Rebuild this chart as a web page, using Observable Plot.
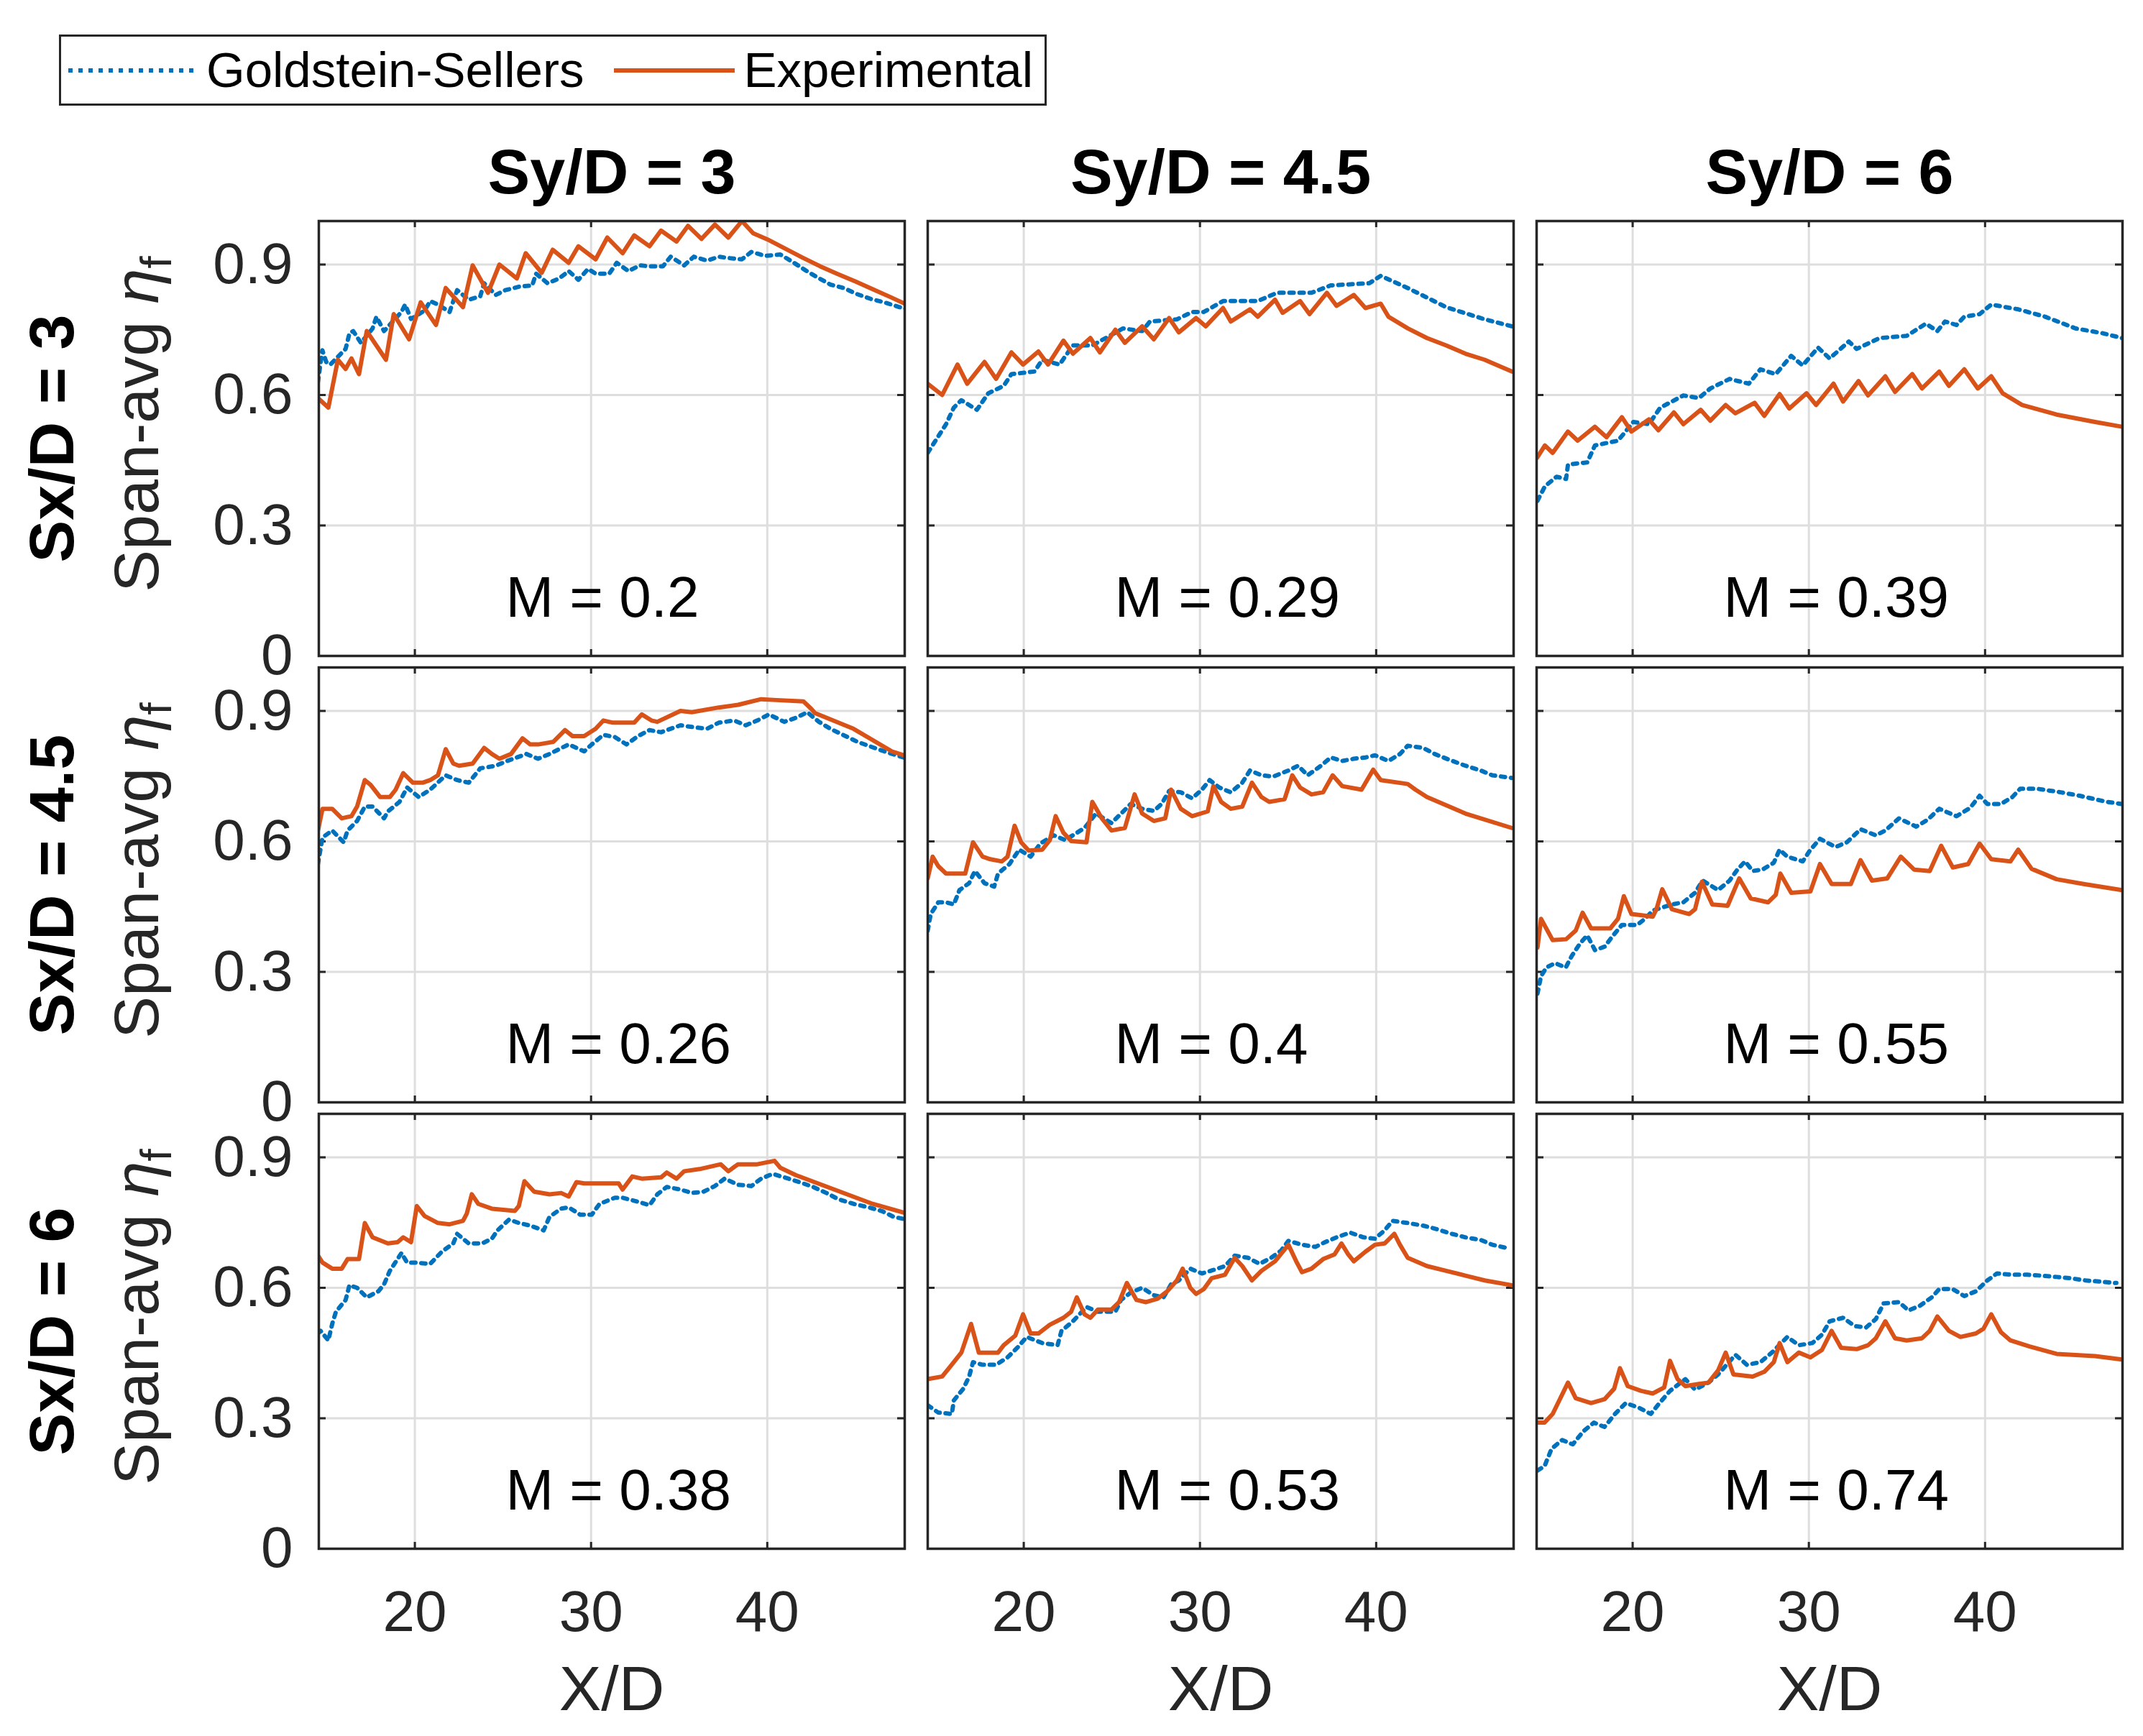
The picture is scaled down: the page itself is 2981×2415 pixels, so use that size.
<!DOCTYPE html>
<html>
<head>
<meta charset="utf-8">
<script src="https://cdn.jsdelivr.net/npm/d3@7"></script>
<script src="https://cdn.jsdelivr.net/npm/@observablehq/plot@0.6"></script>
<style>
  body { margin: 0; background: #fff; font-family: "Liberation Sans", Arial, sans-serif; }
  #legend { position: relative; width: 2981px; height: 160px; }
  #legend .box {
    position: absolute; left: 82px; top: 48px; width: 1374px; height: 99px;
    box-sizing: border-box; border: 3px solid #262626; background: #fff;
    display: flex; align-items: center; padding-left: 10px;
    font-size: 69px; color: #000; white-space: nowrap;
  }
  #legend svg { display: block; }
</style>
</head>
<body>
<div id="legend">
  <div class="box">
    <svg width="182" height="20" style="margin-right:10px"><line x1="0" y1="10" x2="182" y2="10" stroke="#0072BD" stroke-width="6" stroke-dasharray="6 8"/></svg>
    <span>Goldstein-Sellers</span>
    <svg width="168" height="20" style="margin-left:42px;margin-right:12px"><line x1="0" y1="10" x2="168" y2="10" stroke="#D95319" stroke-width="6"/></svg>
    <span>Experimental</span>
  </div>
</div>
<div id="chart"></div>
<script>
// Sx/D (rangées) et Sy/D (colonnes)
const spacings = [3, 4.5, 6];
// rapport de soufflage M, lignes = Sx/D, colonnes = Sy/D
const blowing = [[0.2, 0.29, 0.39], [0.26, 0.4, 0.55], [0.38, 0.53, 0.74]];
const xTicks = [20, 30, 40];
const yTicks = [0, 0.3, 0.6, 0.9];

const gs_3_3 = [[14.5,0.63],[14.75,0.703],[14.97,0.676],[15.2,0.67],[16.07,0.706],[16.29,0.742],[16.5,0.747],[16.94,0.72],[17.6,0.753],[17.82,0.78],[18.25,0.747],[19.24,0.791],[19.45,0.808],[19.78,0.775],[20.55,0.794],[20.87,0.816],[21.31,0.808],[21.97,0.791],[22.4,0.841],[23.06,0.819],[23.71,0.827],[23.93,0.857],[24.59,0.83],[25.13,0.841],[25.9,0.849],[26.66,0.852],[26.88,0.879],[27.53,0.857],[28.19,0.868],[28.73,0.885],[29.28,0.865],[29.83,0.89],[30.26,0.879],[31.03,0.879],[31.46,0.904],[32.12,0.885],[32.77,0.898],[33.32,0.896],[34.08,0.896],[34.52,0.918],[35.28,0.898],[35.83,0.918],[36.59,0.909],[37.25,0.918],[37.79,0.915],[38.56,0.912],[39.1,0.929],[39.87,0.92],[40.74,0.923],[41.4,0.907],[42.16,0.887],[42.82,0.871],[43.58,0.854],[44.34,0.846],[45.1,0.832],[45.87,0.821],[46.64,0.813],[47.51,0.802],[47.9,0.798]];
const exp_3_3 = [[14.5,0.593],[15.09,0.571],[15.63,0.681],[16.07,0.66],[16.4,0.684],[16.83,0.648],[17.27,0.747],[18.36,0.681],[18.8,0.786],[19.67,0.728],[20.33,0.813],[21.2,0.761],[21.75,0.846],[22.73,0.802],[23.28,0.898],[24.15,0.835],[24.8,0.9],[25.79,0.868],[26.29,0.926],[27.2,0.881],[27.82,0.934],[28.73,0.904],[29.28,0.942],[30.26,0.912],[30.92,0.962],[31.79,0.926],[32.45,0.967],[33.32,0.942],[33.97,0.978],[34.85,0.953],[35.5,0.989],[36.27,0.959],[37.03,0.992],[37.79,0.962],[38.56,1.0],[39.2,0.972],[40.0,0.958],[41.0,0.937],[42.0,0.916],[43.0,0.896],[44.0,0.878],[45.0,0.861],[46.0,0.843],[47.0,0.825],[47.9,0.808]];

const gs_3_45 = [[14.55,0.467],[15.59,0.533],[16.03,0.571],[16.46,0.588],[17.34,0.566],[17.99,0.604],[18.86,0.621],[19.3,0.648],[20.61,0.654],[21.05,0.681],[22.03,0.67],[22.79,0.714],[23.89,0.714],[25.63,0.753],[26.72,0.747],[27.16,0.769],[28.69,0.774],[29.56,0.791],[30.22,0.791],[31.31,0.816],[33.28,0.816],[34.37,0.835],[36.33,0.835],[37.42,0.852],[39.61,0.857],[40.26,0.874],[41.79,0.846],[43.97,0.802],[46.16,0.774],[47.7,0.758]];
const exp_3_45 = [[14.55,0.626],[15.37,0.6],[16.24,0.67],[16.79,0.626],[17.77,0.676],[18.43,0.637],[19.3,0.698],[19.96,0.67],[20.83,0.7],[21.38,0.67],[22.25,0.725],[22.79,0.695],[23.78,0.731],[24.32,0.698],[25.2,0.75],[25.74,0.72],[26.72,0.758],[27.38,0.728],[28.25,0.777],[28.8,0.744],[29.78,0.777],[30.33,0.758],[31.31,0.8],[31.75,0.769],[32.84,0.797],[33.28,0.78],[34.26,0.819],[34.69,0.789],[35.68,0.816],[36.22,0.786],[37.2,0.835],[37.75,0.805],[38.73,0.83],[39.39,0.8],[40.26,0.81],[40.7,0.78],[41.8,0.753],[42.88,0.731],[43.97,0.714],[45.07,0.695],[46.16,0.681],[47.7,0.654]];

const gs_3_6 = [[14.6,0.357],[15.02,0.39],[15.68,0.412],[16.22,0.407],[16.33,0.44],[17.42,0.445],[17.86,0.484],[19.17,0.495],[20.04,0.538],[20.92,0.533],[21.57,0.571],[22.88,0.599],[23.76,0.593],[24.41,0.615],[25.5,0.637],[26.59,0.626],[27.25,0.659],[28.12,0.648],[29.0,0.69],[29.65,0.668],[30.52,0.709],[31.18,0.684],[32.27,0.723],[32.71,0.706],[34.02,0.731],[35.55,0.736],[36.64,0.764],[37.29,0.747],[37.73,0.769],[38.38,0.761],[38.82,0.78],[39.69,0.786],[40.35,0.808],[41.88,0.797],[43.41,0.78],[45.15,0.753],[46.68,0.742],[47.77,0.731]];
const exp_3_6 = [[14.58,0.456],[15.02,0.484],[15.46,0.467],[16.33,0.516],[16.88,0.495],[17.86,0.527],[18.52,0.503],[19.39,0.549],[19.93,0.516],[20.92,0.544],[21.46,0.519],[22.34,0.56],[22.88,0.533],[23.86,0.566],[24.41,0.541],[25.28,0.577],[25.83,0.558],[26.92,0.582],[27.47,0.552],[28.34,0.602],[28.89,0.569],[29.87,0.604],[30.41,0.577],[31.4,0.626],[31.94,0.585],[32.82,0.632],[33.36,0.599],[34.34,0.643],[34.89,0.607],[35.87,0.648],[36.42,0.615],[37.4,0.654],[37.95,0.621],[38.82,0.659],[39.59,0.615],[40.35,0.643],[41.0,0.604],[42.1,0.577],[44.06,0.555],[46.24,0.538],[47.77,0.527]];

const gs_45_3 = [[14.5,0.548],[14.76,0.609],[15.31,0.625],[15.96,0.598],[16.18,0.625],[16.72,0.647],[17.16,0.68],[17.6,0.68],[18.25,0.653],[18.47,0.669],[19.13,0.691],[19.56,0.724],[20.22,0.702],[20.87,0.719],[21.75,0.752],[22.4,0.741],[23.06,0.735],[23.71,0.768],[24.59,0.774],[25.24,0.785],[26.33,0.801],[26.99,0.79],[27.64,0.801],[28.73,0.823],[29.61,0.807],[30.04,0.823],[30.7,0.845],[31.35,0.84],[32.01,0.823],[32.66,0.842],[33.32,0.856],[33.97,0.851],[35.07,0.867],[35.94,0.862],[36.59,0.859],[37.25,0.873],[38.12,0.878],[38.78,0.867],[39.43,0.878],[40.09,0.892],[40.96,0.875],[41.62,0.884],[42.27,0.897],[42.93,0.875],[43.58,0.859],[45.11,0.829],[46.64,0.807],[47.73,0.793]];
const exp_45_3 = [[14.5,0.625],[14.76,0.675],[15.31,0.675],[15.85,0.653],[16.4,0.658],[16.72,0.68],[17.16,0.741],[17.49,0.73],[18.03,0.702],[18.58,0.702],[18.91,0.719],[19.34,0.757],[19.89,0.735],[20.44,0.735],[20.87,0.741],[21.31,0.752],[21.75,0.812],[22.18,0.779],[22.51,0.774],[23.28,0.779],[23.93,0.815],[24.37,0.801],[24.8,0.79],[25.46,0.801],[26.11,0.837],[26.55,0.823],[26.99,0.823],[27.86,0.829],[28.52,0.856],[28.95,0.842],[29.61,0.842],[30.26,0.859],[30.7,0.878],[31.24,0.873],[32.45,0.873],[32.88,0.892],[33.43,0.878],[33.76,0.875],[35.07,0.9],[35.72,0.897],[37.25,0.908],[38.34,0.914],[39.65,0.927],[40.52,0.925],[42.05,0.922],[42.49,0.905],[42.71,0.895],[44.89,0.859],[47.07,0.807],[47.9,0.796]];

const gs_45_45 = [[14.55,0.395],[14.72,0.433],[15.15,0.46],[15.59,0.46],[16.03,0.455],[16.35,0.488],[16.9,0.504],[17.23,0.532],[17.77,0.504],[18.32,0.496],[18.54,0.526],[19.19,0.548],[19.74,0.581],[20.39,0.565],[20.94,0.595],[21.7,0.614],[22.36,0.603],[22.9,0.617],[23.45,0.631],[24.1,0.664],[24.98,0.642],[25.52,0.664],[26.07,0.686],[26.72,0.675],[27.38,0.67],[27.82,0.686],[28.25,0.716],[28.91,0.713],[29.56,0.699],[30.11,0.719],[30.55,0.741],[31.09,0.724],[31.75,0.713],[32.4,0.735],[32.84,0.763],[33.49,0.752],[34.15,0.749],[35.02,0.763],[35.57,0.774],[36.11,0.752],[36.77,0.771],[37.42,0.793],[38.08,0.785],[38.73,0.79],[39.39,0.793],[39.93,0.798],[40.7,0.785],[41.35,0.801],[41.79,0.82],[42.66,0.815],[43.32,0.801],[44.19,0.787],[45.07,0.774],[45.94,0.763],[46.59,0.752],[47.69,0.746]];
const exp_45_45 = [[14.55,0.515],[14.83,0.565],[15.15,0.543],[15.59,0.526],[16.68,0.526],[17.12,0.598],[17.66,0.565],[18.1,0.559],[18.76,0.554],[19.08,0.565],[19.48,0.636],[19.85,0.598],[20.28,0.579],[21.05,0.581],[21.48,0.603],[21.81,0.658],[22.25,0.62],[22.69,0.601],[23.56,0.598],[23.89,0.691],[24.43,0.653],[24.98,0.625],[25.74,0.631],[26.29,0.708],[26.72,0.664],[27.38,0.647],[28.03,0.653],[28.36,0.719],[28.91,0.675],[29.56,0.658],[30.44,0.669],[30.76,0.727],[31.2,0.691],[31.75,0.675],[32.4,0.68],[32.95,0.735],[33.49,0.702],[33.93,0.691],[34.8,0.697],[35.24,0.752],[35.68,0.724],[36.33,0.708],[36.99,0.713],[37.53,0.752],[38.08,0.727],[39.17,0.719],[39.83,0.765],[40.26,0.741],[41.79,0.732],[42.23,0.719],[42.88,0.702],[45.07,0.664],[47.69,0.631]];

const gs_45_6 = [[14.6,0.25],[14.8,0.29],[15.1,0.31],[15.6,0.32],[16.2,0.31],[16.55,0.337],[16.99,0.364],[17.42,0.384],[17.86,0.35],[18.41,0.358],[18.84,0.381],[19.39,0.408],[20.26,0.408],[20.7,0.422],[21.14,0.441],[22.23,0.455],[22.88,0.46],[23.54,0.482],[23.97,0.51],[24.85,0.488],[25.5,0.51],[25.94,0.535],[26.38,0.554],[26.81,0.532],[27.36,0.535],[28.01,0.551],[28.34,0.581],[28.78,0.565],[29.65,0.554],[30.09,0.581],[30.63,0.606],[31.51,0.587],[32.16,0.598],[32.93,0.628],[33.8,0.614],[34.34,0.625],[35.11,0.653],[36.09,0.634],[36.75,0.65],[37.4,0.675],[38.38,0.658],[39.15,0.677],[39.69,0.705],[40.13,0.686],[40.9,0.686],[41.55,0.702],[41.99,0.721],[42.97,0.721],[44.28,0.713],[45.37,0.705],[46.9,0.691],[47.77,0.686]];
const exp_45_6 = [[14.6,0.356],[14.8,0.422],[15.46,0.373],[16.22,0.375],[16.77,0.395],[17.16,0.436],[17.64,0.4],[18.73,0.4],[19.17,0.422],[19.5,0.474],[19.93,0.433],[21.14,0.427],[21.35,0.444],[21.68,0.49],[22.23,0.444],[23.21,0.433],[23.54,0.444],[23.93,0.507],[24.52,0.455],[25.39,0.452],[26.05,0.515],[26.7,0.469],[27.69,0.46],[28.12,0.477],[28.38,0.526],[29.0,0.482],[30.09,0.485],[30.63,0.548],[31.29,0.502],[32.38,0.502],[32.93,0.557],[33.58,0.51],[34.45,0.515],[35.22,0.565],[35.98,0.535],[36.86,0.532],[37.51,0.59],[38.17,0.54],[39.04,0.548],[39.69,0.595],[40.35,0.559],[41.44,0.554],[41.88,0.581],[42.64,0.537],[44.06,0.513],[45.59,0.502],[47.77,0.488]];

const gs_6_3 = [[14.5,0.495],[14.65,0.501],[15.09,0.479],[15.31,0.517],[15.52,0.545],[16.07,0.572],[16.29,0.606],[16.72,0.6],[17.27,0.578],[17.93,0.592],[18.25,0.608],[18.58,0.639],[19.24,0.68],[19.56,0.658],[20.0,0.658],[20.87,0.655],[21.53,0.683],[22.18,0.702],[22.4,0.724],[23.06,0.702],[23.82,0.702],[24.37,0.713],[24.69,0.732],[25.35,0.757],[25.9,0.749],[26.55,0.743],[27.31,0.732],[27.64,0.763],[28.3,0.782],[28.73,0.785],[29.39,0.768],[30.04,0.768],[30.48,0.793],[31.35,0.807],[31.79,0.807],[32.55,0.799],[33.32,0.79],[33.76,0.815],[34.3,0.832],[35.07,0.826],[35.72,0.818],[36.38,0.821],[37.03,0.834],[37.58,0.851],[38.34,0.837],[39.1,0.834],[39.65,0.851],[40.31,0.862],[40.96,0.854],[41.83,0.843],[42.6,0.832],[43.36,0.818],[44.02,0.804],[44.89,0.793],[45.76,0.785],[46.53,0.776],[47.18,0.763],[47.9,0.757]];
const exp_6_3 = [[14.5,0.674],[14.76,0.658],[15.31,0.644],[15.85,0.644],[16.18,0.666],[16.83,0.666],[17.16,0.749],[17.6,0.716],[18.47,0.702],[19.02,0.705],[19.34,0.716],[19.78,0.705],[20.11,0.788],[20.55,0.765],[21.31,0.749],[21.97,0.746],[22.73,0.754],[22.95,0.771],[23.23,0.815],[23.6,0.793],[24.37,0.782],[25.68,0.777],[25.9,0.788],[26.22,0.845],[26.77,0.821],[27.64,0.815],[28.3,0.818],[28.73,0.81],[29.17,0.843],[29.61,0.84],[30.92,0.84],[31.57,0.84],[31.79,0.826],[32.34,0.856],[32.88,0.851],[33.97,0.854],[34.3,0.865],[34.85,0.851],[35.28,0.868],[36.16,0.873],[37.36,0.884],[37.79,0.868],[38.34,0.884],[39.43,0.884],[40.41,0.892],[40.74,0.876],[41.62,0.859],[43.8,0.826],[45.98,0.793],[47.9,0.771]];

const gs_6_45 = [[14.55,0.33],[15.15,0.313],[15.92,0.31],[16.03,0.341],[16.57,0.368],[16.9,0.396],[17.12,0.429],[17.66,0.423],[18.43,0.423],[19.08,0.44],[19.63,0.462],[20.17,0.487],[21.05,0.473],[21.92,0.468],[22.14,0.501],[22.79,0.523],[23.56,0.556],[24.21,0.545],[25.2,0.545],[25.52,0.572],[26.07,0.589],[26.72,0.6],[27.38,0.583],[27.93,0.578],[28.36,0.608],[28.8,0.617],[29.45,0.644],[30.11,0.633],[30.76,0.641],[31.42,0.65],[31.97,0.674],[32.73,0.669],[33.38,0.655],[34.04,0.669],[34.59,0.685],[35.02,0.708],[35.79,0.699],[36.55,0.694],[37.1,0.705],[37.75,0.716],[38.52,0.727],[39.28,0.716],[39.93,0.713],[40.48,0.732],[40.92,0.754],[41.79,0.749],[42.66,0.743],[43.43,0.735],[44.3,0.724],[45.07,0.716],[45.94,0.71],[46.59,0.699],[47.47,0.691]];
const exp_6_45 = [[14.55,0.39],[15.37,0.396],[15.81,0.418],[16.46,0.451],[17.01,0.517],[17.45,0.451],[18.54,0.451],[18.86,0.468],[19.52,0.49],[19.96,0.539],[20.39,0.495],[20.83,0.495],[21.48,0.515],[22.25,0.531],[22.69,0.545],[23.01,0.578],[23.45,0.539],[23.78,0.531],[24.21,0.55],[24.98,0.55],[25.41,0.567],[25.85,0.611],[26.4,0.572],[26.94,0.567],[27.6,0.575],[28.14,0.592],[28.69,0.617],[29.02,0.644],[29.45,0.6],[29.78,0.586],[30.22,0.597],[30.66,0.622],[31.42,0.63],[31.97,0.669],[32.4,0.65],[32.95,0.617],[33.49,0.639],[34.26,0.661],[35.02,0.699],[35.46,0.661],[35.79,0.636],[36.33,0.644],[36.99,0.666],[37.64,0.677],[38.03,0.702],[38.41,0.677],[38.73,0.661],[39.39,0.683],[39.93,0.699],[40.48,0.702],[41.03,0.724],[41.35,0.699],[41.79,0.669],[42.88,0.65],[43.97,0.639],[45.07,0.628],[46.16,0.617],[47.69,0.606]];

const gs_6_6 = [[14.6,0.18],[15.0,0.19],[15.4,0.23],[16.0,0.25],[16.6,0.24],[17.2,0.27],[17.8,0.29],[18.4,0.28],[19.0,0.31],[19.61,0.335],[20.37,0.324],[21.03,0.31],[21.46,0.332],[22.12,0.363],[22.99,0.39],[23.54,0.366],[24.3,0.382],[24.85,0.401],[25.83,0.446],[26.48,0.423],[27.25,0.429],[27.9,0.451],[28.78,0.487],[29.43,0.468],[30.2,0.473],[30.74,0.492],[31.18,0.523],[31.94,0.531],[32.6,0.512],[33.25,0.509],[33.8,0.528],[34.24,0.564],[35.11,0.567],[35.66,0.548],[36.31,0.559],[36.97,0.578],[37.4,0.597],[38.17,0.597],[38.82,0.581],[39.48,0.592],[40.13,0.617],[40.68,0.633],[41.55,0.63],[42.42,0.63],[43.19,0.628],[44.06,0.625],[44.83,0.622],[45.7,0.617],[46.57,0.614],[47.45,0.611]];
const exp_6_6 = [[14.6,0.29],[15.0,0.29],[15.46,0.31],[16.33,0.382],[16.77,0.346],[17.64,0.335],[18.41,0.344],[18.95,0.368],[19.28,0.415],[19.72,0.374],[20.48,0.363],[21.14,0.357],[21.79,0.371],[22.12,0.432],[22.55,0.39],[22.99,0.374],[23.76,0.379],[24.3,0.382],[24.85,0.41],[25.28,0.451],[25.72,0.401],[26.81,0.396],[27.47,0.407],[28.01,0.429],[28.34,0.473],[28.78,0.429],[29.43,0.451],[30.09,0.44],[30.74,0.457],[31.29,0.501],[31.83,0.462],[32.71,0.459],[33.36,0.468],[33.8,0.484],[34.34,0.523],[34.89,0.484],[35.55,0.479],[36.42,0.484],[36.86,0.501],[37.29,0.534],[37.95,0.501],[38.6,0.487],[39.48,0.495],[39.91,0.506],[40.35,0.539],[40.9,0.498],[41.44,0.479],[42.53,0.465],[44.06,0.448],[46.24,0.443],[47.77,0.435]];

const panels = [
  {sx: 3, sy: 3, gs: gs_3_3, exp: exp_3_3},
  {sx: 3, sy: 4.5, gs: gs_3_45, exp: exp_3_45},
  {sx: 3, sy: 6, gs: gs_3_6, exp: exp_3_6},
  {sx: 4.5, sy: 3, gs: gs_45_3, exp: exp_45_3},
  {sx: 4.5, sy: 4.5, gs: gs_45_45, exp: exp_45_45},
  {sx: 4.5, sy: 6, gs: gs_45_6, exp: exp_45_6},
  {sx: 6, sy: 3, gs: gs_6_3, exp: exp_6_3},
  {sx: 6, sy: 4.5, gs: gs_6_45, exp: exp_6_45},
  {sx: 6, sy: 6, gs: gs_6_6, exp: exp_6_6}
];

const toRows = (key) => panels.flatMap(p => p[key].map(([x, y]) => ({sx: p.sx, sy: p.sy, x, y})));
const gsRows = toRows("gs");
const expRows = toRows("exp");
const mRows = spacings.flatMap((sx, i) => spacings.map((sy, j) => ({sx, sy, m: blowing[i][j]})));

// graduations intérieures façon MATLAB (longueur ~10 px)
const tickLen = 10;
const panelW = 815, panelH = 606;
const tickStyle = {stroke: "#262626", strokeWidth: 3};

const plot = Plot.plot({
  width: 2981,
  height: 2255,
  marginTop: 146,
  marginBottom: 259,
  marginLeft: 443,
  marginRight: 29,
  style: {fontFamily: "'Liberation Sans', Arial, sans-serif", fontSize: "80px", color: "#262626", background: "#fff"},
  x: {domain: [14.55, 47.8]},
  y: {domain: [0, 1]},
  fx: {domain: spacings, paddingInner: 0.0378, paddingOuter: 0, axis: null},
  fy: {domain: spacings, paddingInner: 0.0257, paddingOuter: 0, axis: null},
  marks: [
    Plot.gridX({ticks: xTicks, stroke: "#dedede", strokeOpacity: 1, strokeWidth: 3}),
    Plot.gridY({ticks: yTicks.slice(1), stroke: "#dedede", strokeOpacity: 1, strokeWidth: 3}),
    Plot.tickX(xTicks, {x: d => d, insetBottom: panelH - tickLen, ...tickStyle}),
    Plot.tickX(xTicks, {x: d => d, insetTop: panelH - tickLen, ...tickStyle}),
    Plot.tickY(yTicks.slice(1), {y: d => d, insetRight: panelW - tickLen, ...tickStyle}),
    Plot.tickY(yTicks.slice(1), {y: d => d, insetLeft: panelW - tickLen, ...tickStyle}),
    Plot.line(gsRows, {
      x: "x", y: "y", fx: "sy", fy: "sx", clip: true,
      stroke: "#0072BD", strokeWidth: 6, strokeDasharray: "6 8"
    }),
    Plot.line(expRows, {
      x: "x", y: "y", fx: "sy", fy: "sx", clip: true,
      stroke: "#D95319", strokeWidth: 6, strokeLinejoin: "round"
    }),
    Plot.axisY({ticks: yTicks, tickFormat: d => d === 0 ? "0" : d.toFixed(1), tickSize: 0, tickPadding: 36, label: null, facetAnchor: "left"}),
    Plot.axisX({ticks: xTicks, tickSize: 0, tickPadding: 58, label: null, facetAnchor: "bottom"}),
    Plot.text(mRows, {
      fx: "sy", fy: "sx", text: d => `M = ${d.m}`,
      frameAnchor: "bottom-left", dx: 260, dy: -80, textAnchor: "start", lineAnchor: "middle",
      fontSize: 80, fill: "#000"
    }),
    // titres de colonnes
    Plot.text(spacings, {
      fx: d => d, fy: () => 3, text: d => `Sy/D = ${d}`,
      frameAnchor: "top", dy: -67, lineAnchor: "middle", fontWeight: "bold", fontSize: 88, fill: "#000"
    }),
    // titres de rangées
    Plot.text(spacings, {
      fx: () => 3, fy: d => d, text: d => `Sx/D = ${d}`,
      frameAnchor: "left", rotate: -90, dx: -370, textAnchor: "middle", lineAnchor: "middle",
      fontWeight: "bold", fontSize: 88, fill: "#000"
    }),
    Plot.text(spacings, {
      fx: () => 3, fy: d => d, text: () => "Span-avg ηf",
      frameAnchor: "left", rotate: -90, dx: -252, dy: -20, textAnchor: "middle", lineAnchor: "middle",
      fontSize: 88, fill: "#262626"
    }),
    Plot.text(spacings, {
      fx: d => d, fy: () => 6, text: () => "X/D",
      frameAnchor: "bottom", dy: 196, lineAnchor: "middle", fontSize: 88, fill: "#262626"
    }),
    Plot.frame({stroke: "#262626", strokeWidth: 3.5})
  ]
});

// eta en italique, f en indice
plot.querySelectorAll("text").forEach(t => {
  if (t.textContent === "Span-avg ηf") {
    t.textContent = "Span-avg ";
    const ns = "http://www.w3.org/2000/svg";
    const eta = document.createElementNS(ns, "tspan");
    eta.setAttribute("font-style", "italic");
    eta.textContent = "η";
    const sub = document.createElementNS(ns, "tspan");
    sub.setAttribute("font-size", "62");
    sub.setAttribute("dy", "18");
    sub.textContent = "f";
    t.appendChild(eta);
    t.appendChild(sub);
  }
});

document.getElementById("chart").appendChild(plot);
</script>
</body>
</html>
